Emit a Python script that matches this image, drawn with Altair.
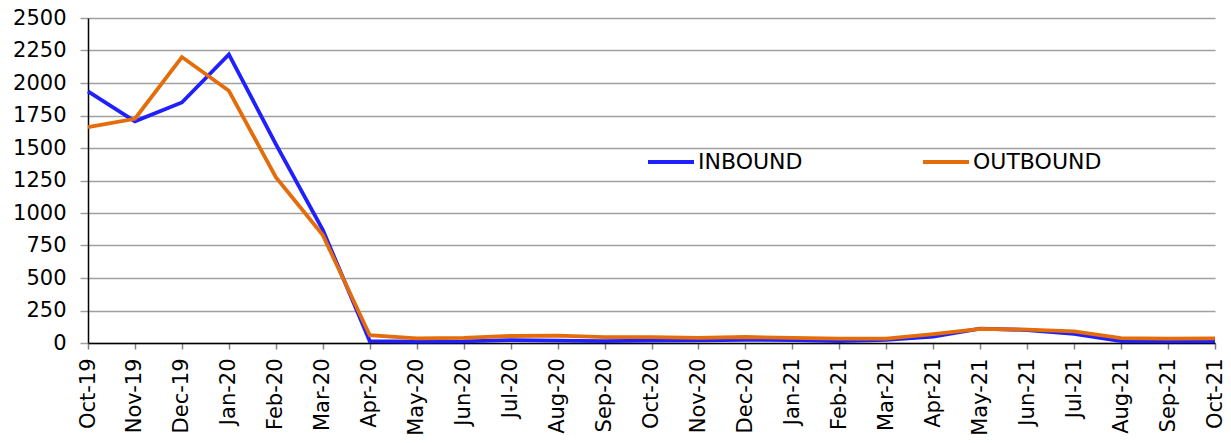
import altair as alt
import pandas as pd

months = ["Oct-19", "Nov-19", "Dec-19", "Jan-20", "Feb-20", "Mar-20", "Apr-20",
          "May-20", "Jun-20", "Jul-20", "Aug-20", "Sep-20", "Oct-20", "Nov-20",
          "Dec-20", "Jan-21", "Feb-21", "Mar-21", "Apr-21", "May-21", "Jun-21",
          "Jul-21", "Aug-21", "Sep-21", "Oct-21"]
inbound = [1935, 1705, 1850, 2220, 1530, 870, 15,
           10, 12, 22, 18, 15, 18, 20,
           25, 22, 15, 25, 50, 110, 100,
           70, 15, 12, 12]
outbound = [1660, 1725, 2200, 1940, 1275, 830, 60,
            36, 40, 54, 56, 45, 45, 40,
            46, 40, 33, 33, 68, 108, 103,
            90, 38, 33, 35]
series = ["INBOUND", "OUTBOUND"]
colors = ["#2020FF", "#E46C0A"]
y_ticks = list(range(0, 2501, 250))

rows = []
for s, vals in zip(series, [inbound, outbound]):
    for m, v in zip(months, vals):
        rows.append({"month": m, "value": v, "series": s})
df = pd.DataFrame(rows)

FONT = "DejaVu Sans"

chart = alt.Chart(df).mark_line(strokeWidth=3.8).encode(
    x=alt.X("month:N", sort=months,
            scale=alt.Scale(type="point", padding=0),
            axis=alt.Axis(title=None, labelAngle=-90, labelAlign="right",
                          labelBaseline="middle", labelPadding=9,
                          tickSize=6, tickColor="#808080", tickWidth=1.5,
                          domainColor="black", domainWidth=1.5,
                          grid=False, labelFont=FONT, labelFontSize=21,
                          labelColor="black")),
    y=alt.Y("value:Q", scale=alt.Scale(domain=[0, 2500], nice=False),
            axis=alt.Axis(title=None, values=y_ticks, format="d", tickSize=8,
                          tickColor="#a0a0a0", tickWidth=1.5,
                          domainColor="black", domainWidth=1.5,
                          gridColor="#a0a0a0", gridWidth=1.5,
                          labelPadding=14, labelFont=FONT, labelFontSize=21,
                          labelColor="black")),
    color=alt.Color("series:N",
                    scale=alt.Scale(domain=series, range=colors),
                    legend=alt.Legend(title=None, orient="none",
                                      legendX=558, legendY=119,
                                      direction="horizontal", columns=2,
                                      columnPadding=112,
                                      symbolType="stroke", symbolSize=2116,
                                      symbolStrokeWidth=3.8, labelOffset=2,
                                      labelFont=FONT, labelFontSize=22,
                                      labelColor="black")),
).properties(
    width=1127, height=325,
    autosize="none",
    padding={"left": 80, "top": 10, "right": 8, "bottom": 100},
).configure_view(stroke=None)

chart.save("out.html", embed_options={"renderer": "svg", "actions": False})
